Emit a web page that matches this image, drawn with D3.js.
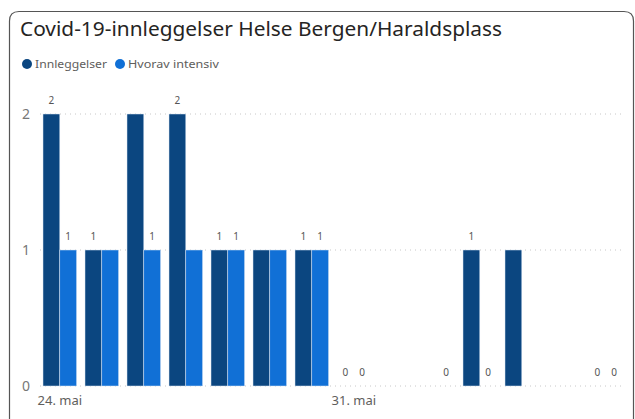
<!DOCTYPE html>
<html><head><meta charset="utf-8">
<script src="https://cdn.jsdelivr.net/npm/d3@7"></script>
<style>html,body{margin:0;padding:0;background:#fff;}svg{display:block;}</style>
</head><body>
<svg id="chart" width="635" height="419"></svg>
<script>
const days = ["24. mai","25. mai","26. mai","27. mai","28. mai","29. mai","30. mai","31. mai","1. jun","2. jun","3. jun","4. jun","5. jun","6. jun"];
const innleggelser = [2,1,2,2,1,1,1,0,0,0,1,1,0,0];
const intensiv     = [1,1,1,1,1,1,1,0,0,0,0,0,0,0];
const showInn = [1,1,0,1,1,0,1,1,0,0,1,0,0,1];
const showInt = [1,0,1,0,1,0,1,1,0,1,1,0,0,1];
const xTickLabels = ["24. mai","31. mai"];
const yTicks = [0,1,2];
const seriesNames = ["Innleggelser","Hvorav intensiv"];
const colors = ["#0B4680","#1170D6"];

const svg = d3.select("#chart");
// card border
svg.append("path")
  .attr("d","M9.5,430 L9.5,21 Q9.5,11.5 19,11.5 L624,11.5 Q633.5,11.5 633.5,21 L633.5,430")
  .attr("fill","none").attr("stroke","#555").attr("stroke-width",1.2);

svg.append("text").attr("x",20).attr("y",36)
  .attr("font-family","'Noto Sans', 'Open Sans', sans-serif").attr("font-size",19)
  .attr("fill","#252423").attr("textLength",482).attr("lengthAdjust","spacingAndGlyphs")
  .text("Covid-19-innleggelser Helse Bergen/Haraldsplass");

// legend
const leg = [{x:27,t:seriesNames[0],w:72},{x:120,t:seriesNames[1],w:91}];
leg.forEach((l,i)=>{
  svg.append("circle").attr("cx",l.x).attr("cy",64).attr("r",5).attr("fill",colors[i]);
  svg.append("text").attr("x",l.x+8).attr("y",68).attr("font-family","'Noto Sans', sans-serif")
    .attr("font-size",11).attr("fill","#605E5C").attr("textLength",l.w).attr("lengthAdjust","spacingAndGlyphs").text(l.t);
});

const x = d3.scaleBand().domain(days).range([38.8,626.8]).paddingInner(0.2).paddingOuter(0.1);
const xs = d3.scaleBand().domain([0,1]).range([0,x.bandwidth()]);
const y = d3.scaleLinear().domain([0,2]).range([386,114]);

// grid
const g = svg.append("g");
yTicks.forEach(t=>{
  g.append("line").attr("x1",40).attr("x2",622).attr("y1",y(t)).attr("y2",y(t))
    .attr("stroke","#c8c8c8").attr("stroke-width",1).attr("stroke-dasharray","1,4");
});
// y axis labels
const yAxis = d3.axisLeft(y).tickValues(yTicks).tickSize(0).tickPadding(0).tickFormat(d3.format("d"));
const ya = svg.append("g").attr("transform","translate(31,0)").call(yAxis);
ya.select(".domain").remove();
ya.selectAll("text").attr("font-family","'Noto Sans', sans-serif").attr("font-size",14).attr("fill","#777").attr("text-anchor","middle").attr("dx",-5).attr("dy","0.35em");

// x axis labels
const xAxis = d3.axisBottom(x).tickValues(xTickLabels).tickSize(0).tickPadding(0);
const xa = svg.append("g").attr("transform","translate(0,396)").call(xAxis);
xa.select(".domain").remove();
xa.selectAll("text").attr("font-family","'Noto Sans', sans-serif").attr("font-size",13).attr("fill","#605E5C").attr("dy","0.71em");

const series = [innleggelser,intensiv];
const shows = [showInn,showInt];
series.forEach((vals,si)=>{
  const data = days.map((d,i)=>({d,v:vals[i],s:shows[si][i]}));
  svg.append("g").selectAll("rect").data(data.filter(e=>e.v>0)).join("rect")
    .attr("x",e=>x(e.d)+xs(si)).attr("width",xs.bandwidth())
    .attr("y",e=>y(e.v)).attr("height",e=>y(0)-y(e.v))
    .attr("fill",colors[si]).attr("stroke","#dbe6f3").attr("stroke-width",0.5);
  svg.append("g").selectAll("text").data(data.filter(e=>e.s)).join("text")
    .attr("x",e=>x(e.d)+xs(si)+xs.bandwidth()/2).attr("y",e=>y(e.v)-10)
    .attr("text-anchor","middle").attr("font-family","'Noto Sans', sans-serif").attr("font-size",10)
    .attr("fill","#555").text(e=>e.v);
});
</script>
</body></html>
